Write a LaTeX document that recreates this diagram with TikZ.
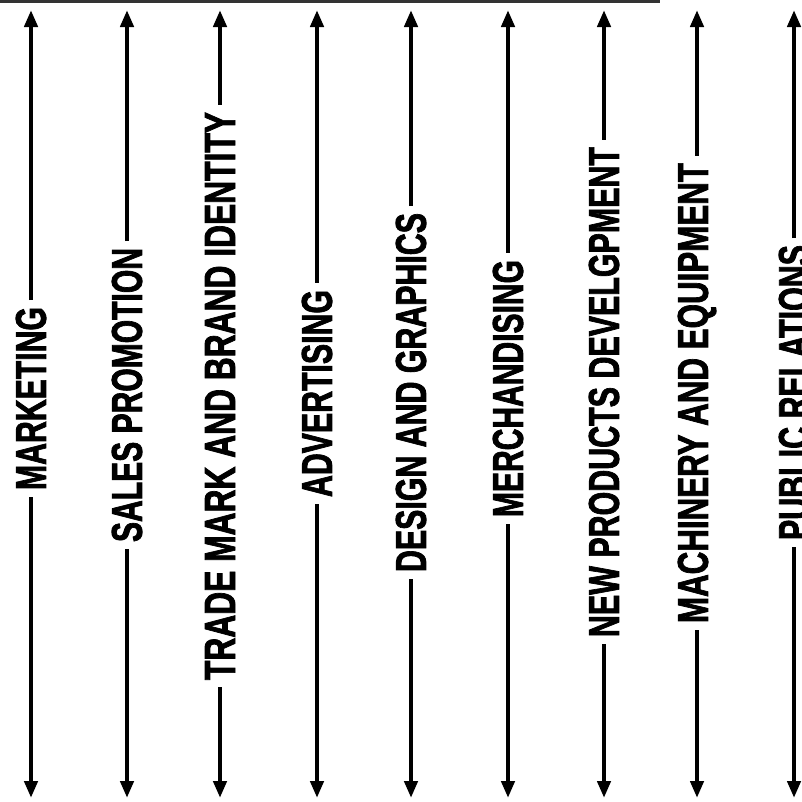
\documentclass[tikz,border=0pt]{standalone}
\usepackage{fontspec}
\setmainfont{Liberation Sans}
\newfontfamily\heavyfont{Liberation Sans Bold}[FakeBold=2.2]
\usetikzlibrary{arrows.meta}
\tikzset{
  lab/.style={rotate=90, inner xsep=7pt, inner ysep=0pt, outer sep=0pt},
  arr/.style={line width=4.5pt, -{Triangle[length=17pt,width=13pt]}},
  topedge/.style={line width=3pt, black!80}
}
\begin{document}
\begin{tikzpicture}[x=1pt,y=-1pt]
\useasboundingbox (0,0) rectangle (802,801);
\coordinate (e1) at (0,1.5);
\coordinate (e2) at (660,1.5);
\draw[topedge] (e1) -- (e2);
\foreach \i/\x/\t/\b/\s in {
  1/31/307/490/MARKETING,
  2/127/248/542/SALES PROMOTION,
  3/220/112/680/TRADE MARK AND BRAND IDENTITY,
  4/317/290/497/ADVERTISING,
  5/411/213/572/DESIGN AND GRAPHICS,
  6/508/260/517/MERCHANDISING,
  7/604/147/637/NEW PRODUCTS DEVELGPMENT,
  8/697/163/623/MACHINERY AND EQUIPMENT,
  9/794/245/540/PUBLIC RELATIONS}{
  \pgfmathsetmacro\len{\b-\t}
  \pgfmathsetmacro\mid{(\t+\b)/2}
  \coordinate (top\i) at (\x,10);
  \coordinate (bot\i) at (\x,798);
  \node[lab] (n\i) at (\x,\mid) {\resizebox{\len pt}{30pt}{\heavyfont \s}};
  \draw[arr] (n\i) -- (top\i);
  \draw[arr] (n\i) -- (bot\i);
}
\end{tikzpicture}
\end{document}
